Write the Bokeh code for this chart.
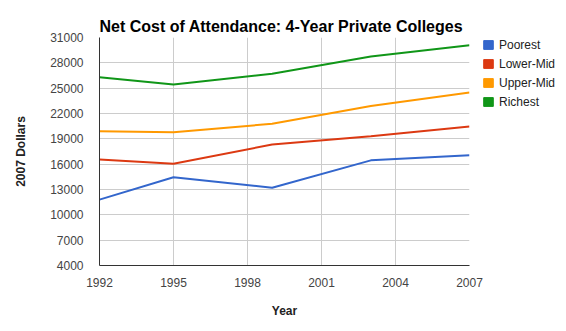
import numpy as np
from bokeh.plotting import figure
from bokeh.models import (ColumnDataSource, FixedTicker, Legend, LegendItem,
                          Range1d)
from bokeh.embed import file_html
from bokeh.resources import INLINE

# Net cost of attendance at 4-year private colleges, by income group (2007 dollars)
years = [1992, 1995, 1999, 2003, 2007]
poorest = [11800, 14450, 13200, 16450, 17050]
lower_mid = [16550, 16050, 18330, 19300, 20460]
upper_mid = [19900, 19780, 20780, 22900, 24500]
richest = [26300, 25430, 26700, 28750, 30090]

series_names = ["Poorest", "Lower-Mid", "Upper-Mid", "Richest"]
series_values = [poorest, lower_mid, upper_mid, richest]
colors = ["#3366cc", "#dc3912", "#ff9900", "#109618"]

x_ticks = [1992, 1995, 1998, 2001, 2004, 2007]
y_ticks = [4000, 7000, 10000, 13000, 16000, 19000, 22000, 25000, 28000, 31000]

FONT = "Liberation Sans"

p = figure(frame_width=370, frame_height=228, output_backend="svg",
           toolbar_location=None,
           x_range=Range1d(1992, 2007), y_range=Range1d(4000, 31000),
           min_border_left=99, min_border_right=97, min_border_top=37,
           min_border_bottom=66)

p.title.text = "Net Cost of Attendance: 4-Year Private Colleges"
p.title.text_font = FONT
p.title.text_font_size = "16px"
p.title.text_font_style = "bold"
p.title.text_color = "#000000"
p.title.align = "left"
p.title.vertical_align = "top"
p.title.offset = 0
p.title.standoff = 2

p.outline_line_color = None
p.background_fill_color = "white"
p.border_fill_color = "white"

for name, vals, c in zip(series_names, series_values, colors):
    src = ColumnDataSource(dict(x=years, y=vals))
    p.line("x", "y", source=src, line_color=c, line_width=2)

# legend swatches: filled squares (no visible marks in the plot area)
items = []
for name, c in zip(series_names, colors):
    nan = np.array([np.nan])
    r = p.quad(left=nan, right=nan, top=nan, bottom=nan,
               fill_color=c, line_color=c)
    items.append(LegendItem(label=name, renderers=[r]))

legend = Legend(items=items, location=(13, 154), border_line_color=None,
                background_fill_alpha=0, padding=0, margin=0, spacing=0,
                glyph_width=12, glyph_height=11, label_height=19,
                label_standoff=5, label_text_font=FONT,
                label_text_font_size="12px", label_text_color="#222222")
p.add_layout(legend, "right")

p.xaxis.ticker = FixedTicker(ticks=x_ticks)
p.yaxis.ticker = FixedTicker(ticks=y_ticks)

for ax in (p.xaxis[0], p.yaxis[0]):
    ax.axis_line_color = "#333333"
    ax.major_tick_line_color = None
    ax.minor_tick_line_color = None
    ax.major_label_text_font = FONT
    ax.major_label_text_font_size = "12px"
    ax.major_label_text_color = "#444444"
    ax.axis_label_text_font = FONT
    ax.axis_label_text_font_size = "12px"
    ax.axis_label_text_font_style = "bold"
    ax.axis_label_text_color = "#222222"

p.xaxis.axis_label = "Year"
p.yaxis.axis_label = "2007 Dollars"
p.xaxis.major_label_standoff = 6
p.yaxis.major_label_standoff = 10
p.xaxis.axis_label_standoff = 14
p.yaxis.axis_label_standoff = 19

p.xgrid.ticker = FixedTicker(ticks=x_ticks)
p.ygrid.ticker = FixedTicker(ticks=y_ticks)
p.grid.grid_line_color = "#cccccc"
p.grid.grid_line_width = 1

open("out.html", "w").write(file_html(p, INLINE))
